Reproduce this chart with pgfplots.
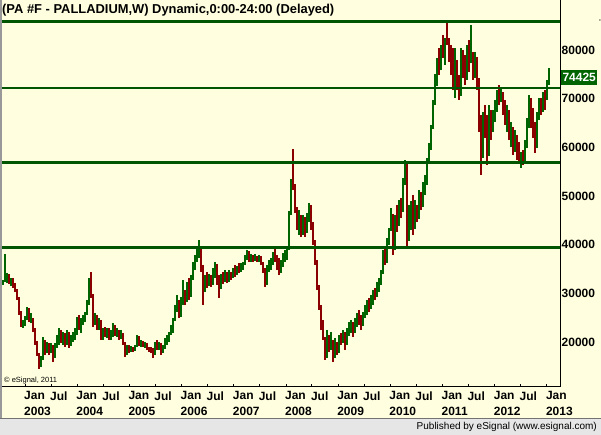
\documentclass[border=0pt]{standalone}
\usepackage{fontspec}
\setmainfont{Liberation Sans}
\usepackage{pgfplots}
\usepackage{pgfplotstable}
\pgfplotsset{compat=1.18}
\definecolor{bg}{HTML}{FFFFE0}
\definecolor{upg}{HTML}{006400}
\definecolor{dnr}{HTML}{8B0000}
\definecolor{lineg}{HTML}{005500}
\definecolor{footg}{HTML}{E6E6E6}

% x = weeks since Jan 2003, o h l c in 1/100 USD
\pgfplotstableread{
x o h l c
-22 32000 32700 31700 32500
-20 32600 38100 32300 33200
-18 33200 34200 32100 33800
-16 33800 34000 31900 32500
-14 32500 33200 31500 33000
-12 33000 33200 31100 31500
-10 31500 32100 30300 30800
-8 30800 30900 28600 29000
-6 29000 29300 25500 26200
-4 26200 26400 23100 23800
-2 23300 24500 22900 24200
0 24200 25300 23300 24800
2 24800 27200 24500 26800
4 26800 27000 24100 25000
6 24500 26000 23900 25600
8 24800 25000 22000 22500
10 22500 22800 19400 20000
12 20000 20200 17100 17600
14 17600 17800 14400 15000
16 15000 17100 14800 16600
18 16600 21000 16400 20300
20 20300 20500 17300 18000
22 18000 20000 17800 19500
24 19500 19700 17300 18000
26 18000 19800 17700 19200
28 19200 19400 15900 17000
30 17000 19800 16800 19300
32 19300 21400 18800 20800
34 20800 22900 19400 22000
36 22000 22500 19800 20500
38 20500 22000 19400 21500
40 21500 21800 19000 19800
42 19800 22500 19400 21800
44 21800 22000 18800 19500
46 19500 21400 19200 20800
48 20800 22000 20000 21500
50 21500 22900 20400 22400
52 22400 25100 21400 24600
54 24600 25500 22500 23500
56 23500 24900 21900 24400
58 24400 25500 23500 24900
60 24900 26200 24100 25800
62 25800 28600 25500 28000
64 28000 33200 27600 32800
66 33800 34400 29000 29600
68 29600 29800 23100 23800
70 23800 26000 23500 25200
72 25200 25500 22500 23000
74 23000 24900 22500 24300
76 24300 24500 20400 21000
78 21000 22900 20400 22300
80 22300 23100 21000 21500
82 21500 22900 20800 22000
84 22000 22900 20400 20800
86 20800 22500 20400 21200
88 21200 23900 21000 23400
90 23400 23500 21200 21800
92 21800 22900 21000 22400
94 22400 22500 20400 20800
96 20800 22500 20600 21600
98 21600 21800 19400 19800
100 19800 20000 16900 17500
102 17500 19400 17300 18800
104 18800 19400 17700 18000
106 18000 19200 17900 18900
108 18900 19000 18000 18300
110 18300 19400 18200 19000
112 19000 21400 18900 21000
114 21000 21200 19200 19600
116 19600 20400 19000 20100
118 20100 20200 19000 19300
120 19300 20000 18800 19700
122 19700 19800 18400 18700
124 18700 19000 18000 18300
126 18300 19000 17700 17900
128 17900 18800 16700 17500
130 17500 20000 17300 19500
132 19500 20400 18400 19000
134 19000 20000 18400 19600
136 19600 19800 17300 18000
138 18000 19400 17800 18800
140 18800 20800 18600 20500
142 20500 21400 19400 21000
144 21000 22000 20000 21700
146 21700 23500 21400 23000
148 23000 24900 21900 24500
150 24500 27600 24300 27000
152 27000 29700 26200 28500
154 28500 28700 24900 25500
156 25500 29200 25200 28800
158 28800 32700 27600 30500
160 30500 30700 27600 28800
162 28800 32300 28200 31500
164 31500 33100 28600 29500
166 29500 33800 29300 33000
168 33000 36400 32800 36000
170 36000 37900 34800 37500
172 37500 39300 36400 38800
174 38800 41000 37300 39500
176 39500 39700 34400 35000
178 35000 35800 27600 30500
180 30500 33800 30300 32800
182 32800 34400 31100 31800
184 31800 34000 31500 33500
186 33500 33800 31300 32000
188 32000 35200 31800 34800
190 34800 36400 33100 35800
192 35800 36000 31700 32500
194 32500 33800 29000 31000
196 31000 34000 30800 33500
198 33500 34400 31900 32500
200 32500 34800 32300 34300
202 34300 34400 32100 33000
204 33000 34800 32300 34200
206 34200 34400 32700 33300
208 33300 35200 33100 34800
210 34800 35800 33300 34000
212 34000 35600 33800 35300
214 35300 36200 34200 34600
216 34600 36200 34400 35900
218 35900 36400 34800 36100
220 36100 37900 35800 37600
222 37600 38900 36800 38500
224 38500 38700 36400 37000
226 37000 38100 36400 37800
228 37800 37900 36400 36800
230 36800 38100 36600 37600
232 37600 37700 36400 37000
234 37000 37900 36400 37500
236 37500 37700 35800 36200
238 36200 36400 34200 34600
240 34600 35200 31300 32000
242 32000 35800 31800 35300
244 35300 36800 34400 36300
246 36300 37300 34800 36800
248 36800 38500 35800 38000
250 38000 39300 36400 37200
252 37200 37900 34800 35500
254 35500 37300 33800 34500
256 34500 36800 34200 36000
258 36000 38300 35400 37500
260 37500 38900 36400 38500
262 38500 39500 36800 39000
264 39000 47000 38800 46500
266 46500 53500 46000 53000
268 58000 59700 51200 52000
270 52000 52500 46500 47000
272 47000 47700 43000 44500
274 44500 47100 42000 46000
276 46000 46100 41600 42500
278 42500 46100 42000 45500
280 45500 45500 41600 43000
282 43000 46500 42400 46000
284 46000 48600 44600 48000
286 48000 48200 43000 44000
288 44000 44600 39900 40500
290 40500 40900 35800 36500
292 36500 36800 30700 31500
294 31500 31700 26600 27500
296 27500 27600 22500 23500
298 23500 24500 20400 21000
300 21000 21000 16300 17000
302 17000 22500 16800 20500
304 20500 21400 18000 18500
306 18500 22000 18400 20000
308 20000 20400 15900 17000
310 17000 20800 16700 19500
312 19500 20000 17300 18000
314 18000 21400 17800 20800
316 20800 21900 19400 20000
318 20000 22500 19800 22000
320 22000 22000 18400 19500
322 19500 22900 19400 22500
324 22500 24100 21200 23500
326 23500 24500 21900 24000
328 24000 24100 21000 22000
330 22000 24900 21800 24500
332 24500 26000 23100 25500
334 25500 26600 23500 24500
336 24500 25500 22500 23500
338 23500 26200 23300 25800
340 25800 27600 24900 27000
342 27000 28600 25500 28200
344 28200 29000 26200 27000
346 27000 29700 26800 29200
348 29200 30700 27600 30300
350 30300 31100 28600 29300
352 29300 32300 29200 31800
354 31800 33100 30300 32500
356 32500 34800 31700 34300
358 34300 39000 34000 38200
360 38200 39300 35800 36500
362 36500 41400 36300 40800
364 40800 43400 39900 43000
366 43000 47500 42800 46000
368 46000 46200 37900 39000
370 39000 46100 38800 45500
372 45500 48100 42600 44000
374 44000 49200 43800 48500
376 48500 49600 45500 47000
378 47000 53700 46800 53000
380 53000 57400 52300 56500
382 56500 56700 39300 41000
384 41000 48100 40800 45000
386 45000 49000 43000 48500
388 48500 50200 42000 43500
390 43500 49200 43300 47000
392 47000 48100 44600 45500
394 45500 51200 45300 50500
396 50500 50800 47100 48000
398 48000 52900 47800 52000
400 52000 54300 50200 53500
402 53500 57800 52300 57000
404 57000 60900 56800 60500
406 60500 64600 59500 64000
408 64000 69700 63800 69000
410 69000 75000 68700 74000
412 73500 78400 72500 77500
414 77500 80400 74900 76000
416 76000 81000 75900 80000
418 80000 83100 78400 79000
420 79000 82500 76900 81500
422 85500 86100 81000 82000
424 82000 82500 77500 79000
426 79000 81000 74900 76000
428 76000 80400 71800 73000
430 73000 80400 70100 77000
432 77000 77900 71800 73000
434 73000 74900 69700 70500
436 71000 80400 70500 79000
438 79000 80000 74300 76000
440 76000 79000 72800 74000
442 74000 81000 73800 80000
444 80000 82000 75500 77500
446 77500 85100 77300 84500
448 79000 79500 73800 75000
450 75000 79600 74300 78500
452 78500 78600 71800 73000
454 73000 74300 63200 64500
456 64500 66600 54300 58000
458 58000 67300 57800 65500
460 65500 68700 61900 63000
462 63000 66600 56400 58500
464 58500 68700 58300 67500
466 67500 67700 61500 63500
468 63500 67700 63200 66000
470 66000 69700 65200 68500
472 68500 71800 67300 71000
474 71000 72800 68700 70000
476 70000 72200 69300 71000
478 71000 71400 66600 67500
480 67500 69700 64600 65500
482 65500 68700 63200 67000
484 67000 67700 61500 62500
486 62500 65200 60100 64000
488 64000 64200 58400 59500
490 59500 63600 59000 62500
492 62500 62500 57400 59000
494 59000 61100 57000 58000
496 56500 59000 55800 58000
498 58000 59500 56400 57000
500 57000 61500 56800 60500
502 60500 66000 59900 65500
504 65500 70800 64000 70000
506 70000 70200 64000 65000
508 65000 68100 61900 64000
510 64000 65200 58800 60000
512 60000 67300 59800 66500
514 66500 70100 65600 69500
516 69500 70100 66600 68000
518 68000 71400 67300 70800
520 70800 71800 67700 70000
522 70000 73800 69800 73000
524 73000 76300 72800 74425
}\pa

\pgfplotsset{
  candle/.style 2 args={draw=none, mark=none, forget plot,
    error bars/.cd, y dir=both, y explicit, error mark=none,
    error bar style={draw=#1, line width=#2}, /pgfplots/.cd},
}

\begin{document}
\begin{tikzpicture}
\path[use as bounding box] (0pt,0pt) rectangle (601pt,435pt);
\fill[bg] (0pt,17pt) rectangle (601pt,435pt);
\fill[footg] (0pt,0pt) rectangle (601pt,16pt);
\draw[black!55, line width=1.2pt] (0pt,16.4pt) -- (601pt,16.4pt);
\draw[black!40, line width=1.5pt] (0.75pt,17pt) -- (0.75pt,435pt);
\draw[black, line width=1pt] (560pt,400pt) -- (560pt,435pt);
\node[anchor=north west, inner sep=0pt, font=\fontsize{12.9}{15}\selectfont\bfseries] at (2pt,431pt) {(PA \#F - PALLADIUM,W) Dynamic,0:00-24:00 (Delayed)};
\node[anchor=base east, inner sep=0pt, font=\fontsize{10}{12}\selectfont] at (597pt,5pt) {Published by eSignal (www.esignal.com)};
\node[anchor=base west, inner sep=0pt, font=\fontsize{7.5}{9}\selectfont] at (4pt,52pt) {\textcopyright\ eSignal, 2011};
\begin{axis}[
  at={(2pt,48pt)}, anchor=south west, scale only axis,
  width=558pt, height=368pt,
  xmin=-23, xmax=535, ymin=10750, ymax=86370,
  axis x line=bottom, axis y line=right,
  axis line style={-, black, line width=1pt},
  clip=false,
  tick align=inside, major tick length=2.5pt,
  xtick={0,25.9,52.18,78.08,104.36,130.26,156.54,182.44,208.72,234.62,260.9,286.8,313.08,338.98,365.26,391.16,417.44,443.34,469.62,495.52,521.8},
  xticklabels={{Jan\\2003},Jul,{Jan\\2004},Jul,{Jan\\2005},Jul,{Jan\\2006},Jul,{Jan\\2007},Jul,{Jan\\2008},Jul,{Jan\\2009},Jul,{Jan\\2010},Jul,{Jan\\2011},Jul,{Jan\\2012},Jul,{Jan\\2013}},
  xticklabel style={anchor=north west, align=left, inner sep=0pt, yshift=-4.5pt, xshift=-1pt, font=\fontsize{12}{16}\selectfont\bfseries},
  x tick style={black, line width=0.8pt},
  ytick={20000,30000,40000,50000,60000,70000,80000},
  yticklabels={20000,30000,40000,50000,60000,70000,80000},
  yticklabel style={anchor=west, inner sep=1.5pt, font=\fontsize{12}{14}\selectfont\bfseries},
  y tick style={draw=none},
]
% up candles: wicks and bodies
\addplot[restrict expr to domain={\thisrow{c}-\thisrow{o}}{0:100000}, candle={upg}{1.25pt}]
  table[x=x, y expr={(\thisrow{h}+\thisrow{l})/2}, y error expr={(\thisrow{h}-\thisrow{l})/2}] {\pa};
\addplot[restrict expr to domain={\thisrow{c}-\thisrow{o}}{0:100000}, candle={upg}{2.3pt}]
  table[x=x, y expr={(\thisrow{o}+\thisrow{c})/2}, y error expr={abs(\thisrow{c}-\thisrow{o})/2+80}] {\pa};
% down candles
\addplot[restrict expr to domain={\thisrow{c}-\thisrow{o}}{-100000:-1}, candle={dnr}{1.25pt}]
  table[x=x, y expr={(\thisrow{h}+\thisrow{l})/2}, y error expr={(\thisrow{h}-\thisrow{l})/2}] {\pa};
\addplot[restrict expr to domain={\thisrow{c}-\thisrow{o}}{-100000:-1}, candle={dnr}{2.3pt}]
  table[x=x, y expr={(\thisrow{o}+\thisrow{c})/2}, y error expr={abs(\thisrow{c}-\thisrow{o})/2+80}] {\pa};
% horizontal support/resistance lines
\addplot[lineg, line width=2.6pt, forget plot] coordinates {(-23,85900) (535,85900)};
\addplot[lineg, line width=2.6pt, forget plot] coordinates {(-23,72230) (535,72230)};
\addplot[lineg, line width=2.6pt, forget plot] coordinates {(-23,56820) (535,56820)};
\addplot[lineg, line width=2.6pt, forget plot] coordinates {(-23,39410) (535,39410)};
\node[anchor=west, fill=upg, text=white, inner sep=1.5pt, minimum height=15pt, xshift=0.8pt, font=\fontsize{12}{14}\selectfont\bfseries] at (axis cs:535,74425) {74425};
\end{axis}
\end{tikzpicture}
\end{document}
